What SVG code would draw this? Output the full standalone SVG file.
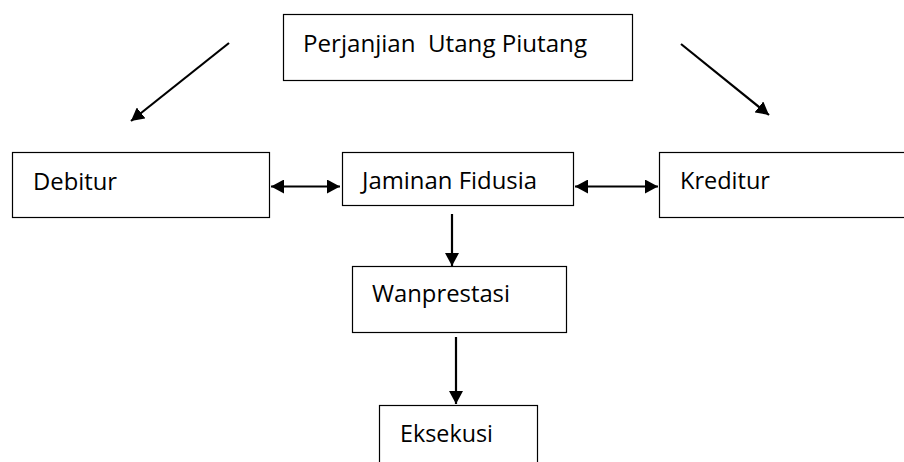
<svg xmlns="http://www.w3.org/2000/svg" width="904" height="462" viewBox="0 0 904 462">
  <defs>
    <style>
      .box { fill: #ffffff; stroke: #000000; stroke-width: 1.2; }
      .lbl { font-family: "Open Sans", "Liberation Sans", sans-serif; font-size: 23.5px; fill: #000000; }
      .conn { stroke: #000000; stroke-width: 2.2; fill: none; }
    </style>
    <marker id="ah" markerUnits="userSpaceOnUse" markerWidth="14" markerHeight="14" refX="13" refY="7" orient="auto-start-reverse" viewBox="0 0 14 14">
      <path d="M0,0 L13,7 L0,14 z" fill="#000000"/>
    </marker>
  </defs>
  <rect width="904" height="462" fill="#ffffff"/>

  <g id="node-perjanjian">
    <rect class="box" x="283.5" y="14.5" width="349" height="66"/>
    <text class="lbl" x="303" y="52" textLength="284" lengthAdjust="spacingAndGlyphs" xml:space="preserve">Perjanjian  Utang Piutang</text>
  </g>
  <g id="node-debitur">
    <rect class="box" x="12.5" y="152.5" width="257" height="65"/>
    <text class="lbl" x="33" y="190" textLength="84" lengthAdjust="spacingAndGlyphs">Debitur</text>
  </g>
  <g id="node-jaminan">
    <rect class="box" x="342.5" y="152.5" width="231" height="53"/>
    <text class="lbl" x="362" y="189" textLength="175" lengthAdjust="spacingAndGlyphs">Jaminan Fidusia</text>
  </g>
  <g id="node-kreditur">
    <rect class="box" x="659.5" y="152.5" width="260" height="65"/>
    <text class="lbl" x="680" y="189" textLength="90" lengthAdjust="spacingAndGlyphs">Kreditur</text>
  </g>
  <g id="node-wanprestasi">
    <rect class="box" x="352.5" y="266.5" width="214" height="66"/>
    <text class="lbl" x="372" y="302" textLength="138" lengthAdjust="spacingAndGlyphs">Wanprestasi</text>
  </g>
  <g id="node-eksekusi">
    <rect class="box" x="379.5" y="405.5" width="158" height="70"/>
    <text class="lbl" x="400" y="442" textLength="93" lengthAdjust="spacingAndGlyphs">Eksekusi</text>
  </g>

  <g id="connectors">
    <line class="conn" x1="229" y1="43" x2="131" y2="121" marker-end="url(#ah)"/>
    <line class="conn" x1="681" y1="44" x2="769" y2="115" marker-end="url(#ah)"/>
    <line class="conn" x1="271" y1="186.5" x2="340" y2="186.5" marker-start="url(#ah)" marker-end="url(#ah)"/>
    <line class="conn" x1="575" y1="186.5" x2="658" y2="186.5" marker-start="url(#ah)" marker-end="url(#ah)"/>
    <line class="conn" x1="452" y1="214" x2="452" y2="266" marker-end="url(#ah)"/>
    <line class="conn" x1="456" y1="337" x2="456" y2="404" marker-end="url(#ah)"/>
  </g>
</svg>
